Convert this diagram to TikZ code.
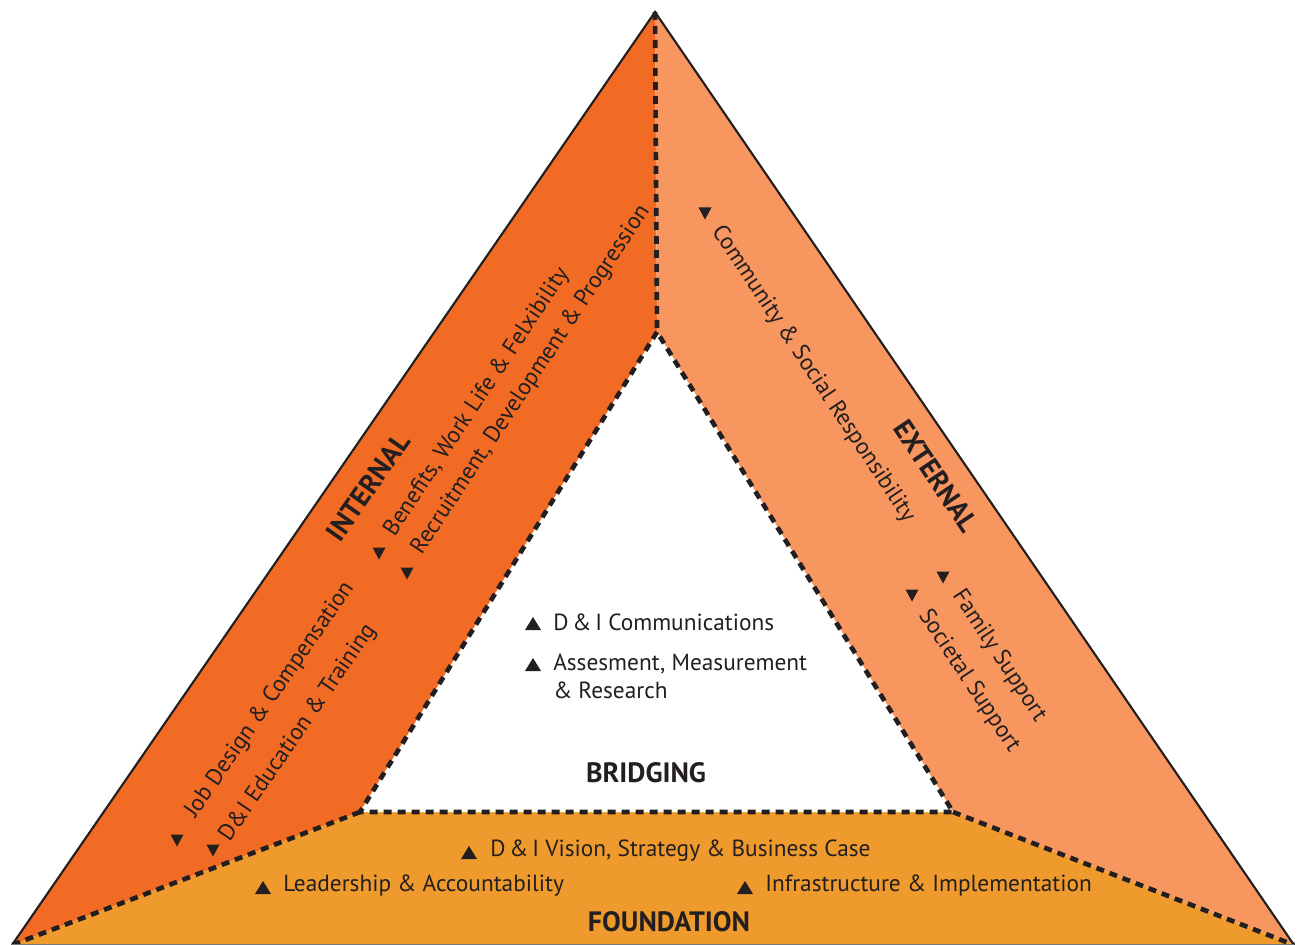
\documentclass[tikz,border=0pt]{standalone}
\usepackage{fontspec}
\setmainfont{PT Sans}
\definecolor{intc}{HTML}{F16B24}
\definecolor{extc}{HTML}{F7965E}
\definecolor{fndc}{HTML}{EF9A2D}
\definecolor{ink}{HTML}{231F20}
\newcommand\dtri[1]{\fill[ink] (#1) ++(-6.5,-5.5) -- ++(13,0) -- ++(-6.5,12) -- cycle;}
\newcommand\utri[1]{\fill[ink] (#1) ++(-8,6) -- ++(16,0) -- ++(-8,-13) -- cycle;}
\begin{document}
\begin{tikzpicture}[x=0.75pt,y=-0.75pt,
  dline/.style={line width=3.5pt, dash pattern=on 6pt off 4.5pt, ink},
  edgeline/.style={line width=1.6pt, ink, line join=miter},
  lbl/.style={font=\fontsize{17.5}{20.5}\selectfont, text=ink, inner sep=0pt},
  head/.style={font=\fontsize{21}{24}\selectfont\bfseries, text=ink, inner sep=0pt}]
\useasboundingbox (0,0) rectangle (1300,945);
\coordinate (A) at (655,12);
\coordinate (L) at (12,945);
\coordinate (R) at (1294,945);
\coordinate (IA) at (657,332);
\coordinate (IL) at (360,812);
\coordinate (IR) at (953,812);
% regions
\fill[intc] (A) -- (IA) -- (IL) -- (L) -- cycle;
\fill[extc] (A) -- (R) -- (IR) -- (IA) -- cycle;
\fill[fndc] (L) -- (IL) -- (IR) -- (R) -- cycle;
\fill[white] (IA) -- (IL) -- (IR) -- cycle;
% dashed borders
\draw[dline] (A) -- (IA);
\draw[dline] (IA) -- (IL) -- (IR) -- cycle;
\draw[dline] (IL) -- (L);
\draw[dline] (IR) -- (R);
% outline
\draw[edgeline] (L) -- (A) -- (R);
\draw[line width=0.8pt, ink!60] (L) -- (R);
% internal
\node[head, rotate=55] (internal) at (368,487) {INTERNAL};
\node[lbl, rotate=55.5] (job) at (270,700) {Job Design \& Compensation};
\node[lbl, rotate=55.5] (edu) at (298,733) {D\&I Education \& Training};
\node[lbl, rotate=56.5] (ben) at (477,402) {Benefits, Work Life \& Felxibility};
\node[lbl, rotate=56.5] (rec) at (531,380) {Recruitment, Development \& Progression};
\dtri{177,840}
\dtri{213,850}
\dtri{379,553}
\dtri{407,573}
% external
\node[head, rotate=-56] (external) at (936,476) {EXTERNAL};
\node[lbl, rotate=-56.5] (com) at (813,374) {Community \& Social Responsibility};
\node[lbl, rotate=-56.5] (fam) at (999,656) {Family Support};
\node[lbl, rotate=-56.5] (soc) at (969,681) {Societal Support};
\dtri{705,213}
\dtri{943,577}
\dtri{912,595}
% bridging
\node[lbl, anchor=west] (dic) at (553,622) {D\,\&\,I Communications};
\node[lbl, anchor=north west, align=left] (ass) at (553,654) {Assesment, Measurement\\\& Research};
\node[head] (bridging) at (646,773) {BRIDGING};
\utri{533,624}
\utri{533,665}
% foundation
\node[lbl, anchor=west] (vis) at (490,851) {D\,\&\,I Vision, Strategy \& Business Case};
\node[lbl, anchor=west] (lead) at (283,886) {Leadership \& Accountability};
\node[lbl, anchor=west] (infra) at (765,886) {Infrastructure \& Implementation};
\node[head] (foundation) at (669,922) {FOUNDATION};
\utri{469,853}
\utri{263,888}
\utri{745,888}
\end{tikzpicture}
\end{document}
